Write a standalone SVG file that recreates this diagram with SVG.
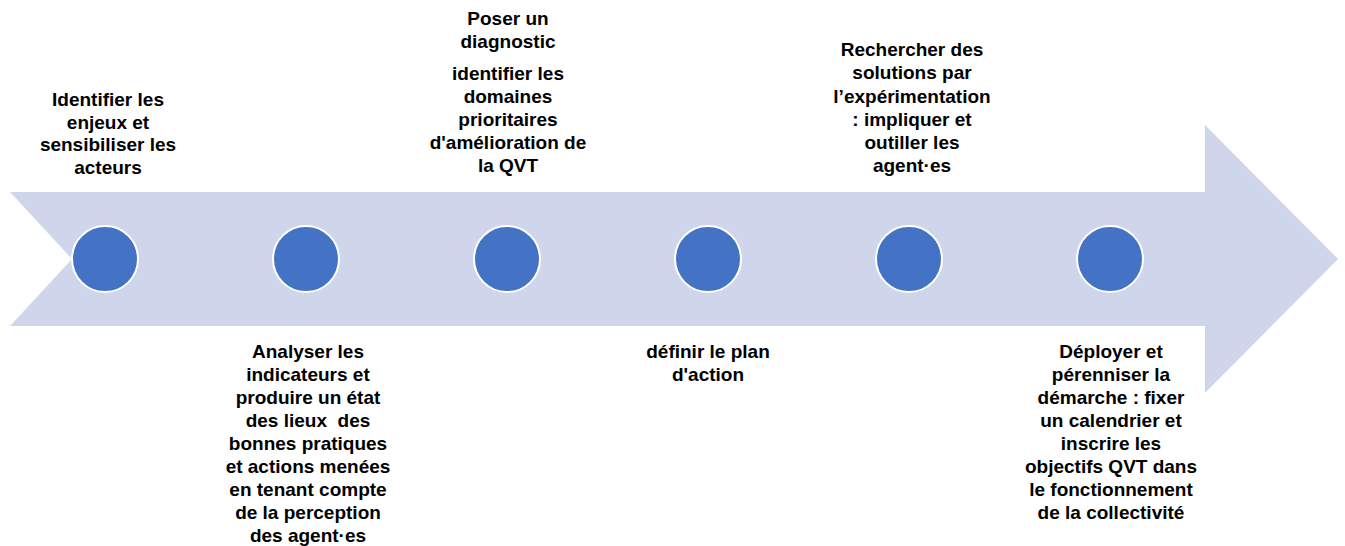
<svg xmlns="http://www.w3.org/2000/svg" width="1345" height="546" viewBox="0 0 1345 546">
<style>
.t{font-family:"Liberation Sans",Arial,sans-serif;font-weight:bold;font-size:19px;fill:#000;text-anchor:middle;white-space:pre}
.dot{fill:#4472C4;stroke:#fff;stroke-width:2}
</style>
<rect width="1345" height="546" fill="#fff"/>
<g id="arrow">
<polygon points="10,192 1205,192 1205,125 1338,259 1205,393 1205,326 10,326 72,259" fill="#CFD5EA"/>
</g>
<g id="connectors"></g>
<g id="n1">
<circle class="dot" cx="105" cy="259" r="33"/>
<text class="t" x="108" y="106">Identifier les</text>
<text class="t" x="108" y="128.5">enjeux et</text>
<text class="t" x="108" y="151">sensibiliser les</text>
<text class="t" x="108" y="173.5">acteurs</text>
</g>
<g id="n2">
<circle class="dot" cx="306" cy="259" r="33"/>
<text class="t" x="308" y="358">Analyser les</text>
<text class="t" x="308" y="381">indicateurs et</text>
<text class="t" x="308" y="404">produire un état</text>
<text class="t" x="308" y="427">des lieux  des</text>
<text class="t" x="308" y="450">bonnes pratiques</text>
<text class="t" x="308" y="473">et actions menées</text>
<text class="t" x="308" y="496">en tenant compte</text>
<text class="t" x="308" y="519">de la perception</text>
<text class="t" x="308" y="542">des agent·es</text>
</g>
<g id="n3">
<circle class="dot" cx="507" cy="259" r="33"/>
<text class="t" x="508" y="25">Poser un</text>
<text class="t" x="508" y="48">diagnostic</text>
<text class="t" x="508" y="80">identifier les</text>
<text class="t" x="508" y="103">domaines</text>
<text class="t" x="508" y="126">prioritaires</text>
<text class="t" x="508" y="149">d'amélioration de</text>
<text class="t" x="508" y="172">la QVT</text>
</g>
<g id="n4">
<circle class="dot" cx="708" cy="259" r="33"/>
<text class="t" x="708" y="358">définir le plan</text>
<text class="t" x="708" y="381">d'action</text>
</g>
<g id="n5">
<circle class="dot" cx="909" cy="259" r="33"/>
<text class="t" x="912" y="56">Rechercher des</text>
<text class="t" x="912" y="79">solutions par</text>
<text class="t" x="912" y="103">l’expérimentation</text>
<text class="t" x="912" y="126">: impliquer et</text>
<text class="t" x="912" y="149">outiller les</text>
<text class="t" x="912" y="172">agent·es</text>
</g>
<g id="n6">
<circle class="dot" cx="1110" cy="259" r="33"/>
<text class="t" x="1111" y="358">Déployer et</text>
<text class="t" x="1111" y="381">pérenniser la</text>
<text class="t" x="1111" y="404">démarche : fixer</text>
<text class="t" x="1111" y="427">un calendrier et</text>
<text class="t" x="1111" y="450">inscrire les</text>
<text class="t" x="1111" y="473">objectifs QVT dans</text>
<text class="t" x="1111" y="496">le fonctionnement</text>
<text class="t" x="1111" y="519">de la collectivité</text>
</g>
</svg>
